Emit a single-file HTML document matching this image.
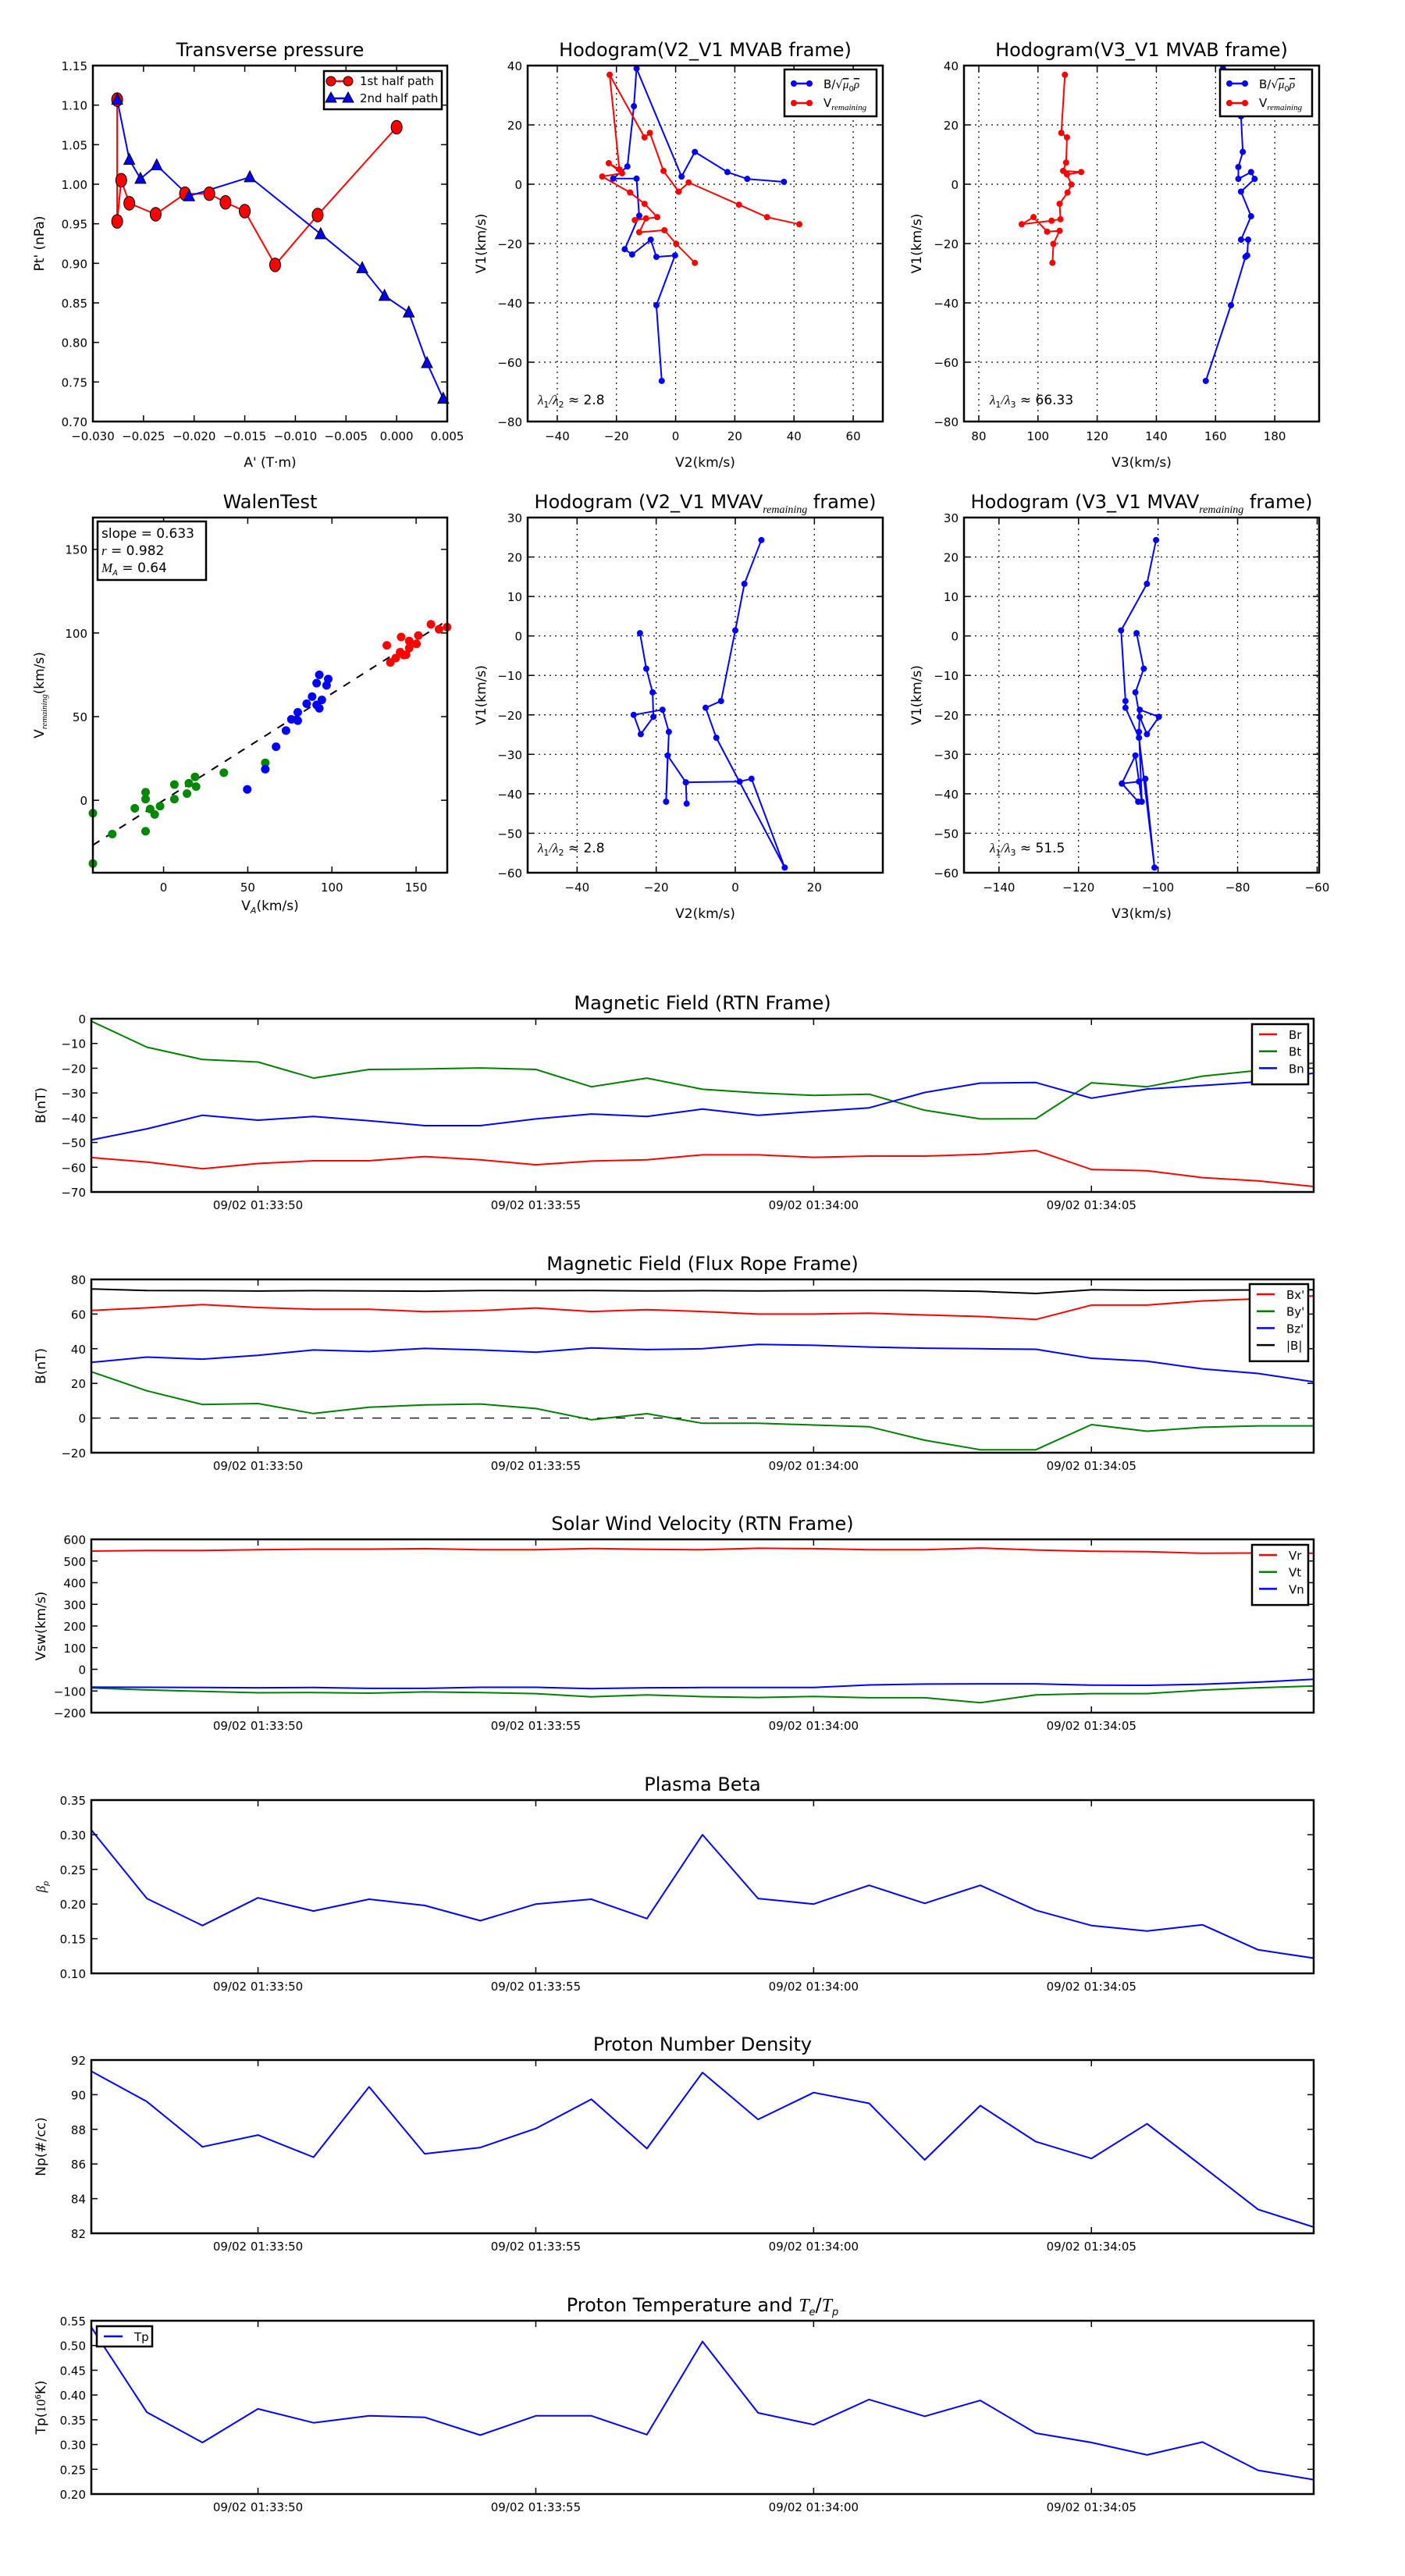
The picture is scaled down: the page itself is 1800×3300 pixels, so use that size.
<!DOCTYPE html>
<html><head><meta charset="utf-8">
<style>
html,body{margin:0;padding:0;background:#fff;}
svg{display:block;font-family:"DejaVu Sans","Liberation Sans",sans-serif;}
</style></head>
<body>
<svg id="fig" width="1800" height="3300" viewBox="0 0 1800 3300" xmlns="http://www.w3.org/2000/svg">
<rect x="0" y="0" width="1800" height="3300" fill="#fff"/>
</svg>
<script>
// ---------- data ----------
const tpA1 = [-0.0276,-0.0276,-0.0272,-0.0264,-0.0238,-0.0209,-0.0185,-0.0169,-0.0150,-0.0120,-0.0078,0.0000];
const tpP1 = [1.107,0.953,1.005,0.976,0.962,0.988,0.988,0.977,0.966,0.898,0.961,1.072];
const tpA2 = [-0.0276,-0.0264,-0.0253,-0.0237,-0.0205,-0.0145,-0.0075,-0.0034,-0.0012,0.0012,0.0030,0.0046];
const tpP2 = [1.107,1.031,1.007,1.024,0.985,1.009,0.937,0.894,0.859,0.838,0.774,0.729];

const h1bV2 = [-4.7,-6.5,-0.2,-6.5,-8.4,-14.7,-17.2,-12.3,-13.2,-21.1,-16.3,-14.1,-13.2,2.0,6.5,17.5,24.2,36.6];
const h1bV1 = [-66.3,-40.8,-24.0,-24.5,-18.7,-23.7,-21.9,-10.6,1.9,1.9,6.0,26.3,39.0,2.6,10.9,4.1,1.8,0.8];
const h1rV2 = [6.5,0.2,-3.8,-12.3,-10.0,-13.8,-6.2,-10.5,-15.4,-24.8,-18.1,-22.6,-19.0,-22.3,-10.5,-8.7,-4.1,1.0,4.4,21.4,30.9,41.8];
const h1rV1 = [-26.5,-20.1,-15.5,-16.2,-11.5,-12.1,-11.1,-6.6,-2.8,2.6,3.7,7.1,5.0,36.9,15.8,17.3,4.5,-2.5,0.6,-6.9,-11.1,-13.5];

const h2bV3 = [156.7,165.2,170.1,170.7,171.0,168.6,172.0,168.6,173.2,172.0,167.7,167.7,169.2,168.6,162.5];
const h2bV1 = [-66.3,-40.8,-24.5,-24.0,-18.7,-18.7,-10.8,-2.5,1.8,4.1,1.8,5.8,10.9,22.9,39.0];
const h2rV3 = [104.9,105.2,107.3,103.1,98.5,94.5,104.6,107.6,107.3,110.0,111.3,109.8,114.6,108.5,109.5,109.8,107.9,109.1];
const h2rV1 = [-26.5,-20.1,-15.7,-16.0,-11.1,-13.5,-12.3,-11.8,-6.6,-2.8,-0.1,3.3,4.1,4.5,7.3,15.8,17.3,36.9];

const walenGx = [-42,-42,-30.5,-17.1,-10.7,-10.7,-8,-5.3,-2.1,-10.7,6.4,6.4,13.9,15,18.7,19.3,35.8,60.4];
const walenGy = [-7.7,-37.8,-20.2,-4.8,4.8,0.7,-5.2,-8.5,-3.5,-18.5,0.7,9.4,4,10.2,14,8.2,16.5,22.4];
const walenBx = [49.7,60.4,66.8,72.7,75.9,79.7,79.7,85,88.2,90.9,92.5,90.9,92.5,96.8,97.8,94];
const walenBy = [6.5,18.6,32,41.7,48.4,52.6,47.6,57.7,62,57,55,70,75,68.7,72.5,60];
const walenRx = [132.6,134.7,137.9,141.1,142.7,145.9,145.9,150.2,151.3,158.8,163.6,168.4,140.5,144];
const walenRy = [92.6,82.4,85,97.6,86.8,91,95.2,93.5,98.5,105.2,102.2,103.5,88.5,87];
const walenSlope = 0.638, walenIntercept = 0.0;

const h3V2 = [6.6,2.3,0,-3.6,-7.5,-4.8,12.5,4.1,1.1,-12.5,-12.3,-12.5,-17.1,-17.5,-16.8,-18.4,-25.7,-23.9,-20.7,-20.9,-22.5,-24.1];
const h3V1 = [24.3,13.2,1.4,-16.5,-18.2,-25.8,-58.7,-36.2,-36.9,-37.1,-42.5,-37.1,-30.3,-42,-24.3,-18.7,-20,-24.9,-20.5,-14.3,-8.3,0.7];
const h4V3 = [-100.5,-102.8,-109.3,-108.2,-108.2,-104.8,-100.9,-103.2,-104.8,-109.1,-105,-109.1,-105.7,-104.1,-104.8,-104.6,-99.8,-102.8,-104.6,-105.7,-103.6,-105.4];
const h4V1 = [24.3,13.2,1.4,-16.5,-18.2,-25.8,-58.7,-36.2,-36.9,-37.4,-42,-37.4,-30.3,-42,-24.3,-18.7,-20.5,-24.9,-20.5,-14.3,-8.3,0.7];

const timeTickIdx = [3,8,13,18];
const timeTickLabels = ["09/02 01:33:50","09/02 01:33:55","09/02 01:34:00","09/02 01:34:05"];
const Br = [-56.1,-57.9,-60.6,-58.5,-57.4,-57.4,-55.7,-57,-59,-57.5,-57,-55,-55,-56,-55.5,-55.5,-54.8,-53.2,-60.9,-61.4,-64.2,-65.5,-67.8];
const Bt = [-1,-11.5,-16.5,-17.5,-24,-20.5,-20.3,-19.9,-20.5,-27.5,-24,-28.5,-30,-31,-30.5,-37,-40.5,-40.4,-25.9,-27.5,-23.2,-20.9,-17.9];
const Bn = [-49,-44.5,-39,-41,-39.5,-41.2,-43.2,-43.2,-40.5,-38.5,-39.5,-36.5,-39,-37.5,-36,-29.8,-26,-25.8,-32.1,-28.4,-27,-25.5,-22];
const Bx1 = [62.1,63.6,65.5,63.8,62.8,62.8,61.4,62,63.5,61.5,62.5,61.5,60,60,60.5,59.5,58.6,56.9,65.2,65.2,67.6,68.8,70.5];
const By1 = [26.7,15.7,7.8,8.4,2.6,6.2,7.6,8.1,5.5,-1,2.5,-3,-3,-4,-5,-12.8,-18.3,-18.3,-3.8,-7.6,-5.3,-4.5,-4.5];
const Bz1 = [32.1,35.2,34,36.2,39.3,38.4,40.2,39.3,38,40.5,39.5,40,42.5,42,41,40.3,40,39.7,34.5,32.8,28.4,25.7,20.9];
const Bmag = [74.5,73.6,73.5,73.3,73.5,73.4,73.2,73.6,73.5,73.6,73.4,73.5,73.4,73.5,73.6,73.5,73.1,71.9,74,73.7,73.8,73.9,74];
const Vr = [546,549,549,552,555,555,557,552,552,558,554,552,559,557,552,552,560,551,545,543,536,537,536];
const Vt = [-86,-95,-102,-108,-107,-110,-104,-107,-112,-127,-118,-126,-130,-125,-131,-131,-154,-118,-112,-112,-96,-85,-77];
const Vn = [-82,-83,-84,-85,-84,-88,-88,-83,-83,-89,-85,-84,-84,-84,-72,-68,-67,-67,-73,-74,-69,-59,-46];
const beta = [0.307,0.208,0.169,0.209,0.190,0.207,0.198,0.176,0.200,0.207,0.179,0.300,0.208,0.200,0.227,0.201,0.227,0.191,0.169,0.161,0.170,0.134,0.122];
const Np = [91.35,89.6,86.99,87.67,86.39,90.45,86.59,86.95,88.05,89.74,86.89,91.28,88.57,90.12,89.5,86.24,89.37,87.29,86.32,88.32,85.86,83.38,82.36];
const Tp = [0.537,0.365,0.304,0.372,0.344,0.358,0.355,0.319,0.358,0.358,0.32,0.508,0.364,0.34,0.391,0.357,0.389,0.323,0.304,0.279,0.305,0.248,0.229];

// ---------- helpers ----------
const NS = 'http://www.w3.org/2000/svg';
const fig = document.getElementById('fig');
function mk(tag, attrs, parent){
  const e = document.createElementNS(NS, tag);
  for (const k in attrs) e.setAttribute(k, attrs[k]);
  (parent || fig).appendChild(e);
  return e;
}
function fmt(v, d){ const s = v.toFixed(d); return s.replace('-', '\u2212'); }
function txt(x, y, s, size, anchor, name, parent, extra){
  const t = mk('text', Object.assign({x:x, y:y, 'font-size':size, 'text-anchor':anchor||'middle', fill:'#000'}, extra||{}), parent);
  t.textContent = s;
  
  
  return t;
}

function axes(c){
  const g = mk('g', {});
  
  
  const sx = v => c.L + (v - c.x0) / (c.x1 - c.x0) * (c.R - c.L);
  const sy = v => c.B - (v - c.y0) / (c.y1 - c.y0) * (c.B - c.T);
  if (c.grid){
    c.xt.forEach(v => { const l = mk('line', {x1:sx(v), x2:sx(v), y1:c.T, y2:c.B, stroke:'#000', 'stroke-width':1.2, 'stroke-dasharray':'2,5'}, g);
        });
    c.yt.forEach(v => { const l = mk('line', {x1:c.L, x2:c.R, y1:sy(v), y2:sy(v), stroke:'#000', 'stroke-width':1.2, 'stroke-dasharray':'2,5'}, g);
        });
  }
  return {g, sx, sy, c};
}
function finishAxes(A){
  const c = A.c, g = A.g, sx = A.sx, sy = A.sy;
  const fr = mk('rect', {x:c.L, y:c.T, width:c.R-c.L, height:c.B-c.T, fill:'none', stroke:'#000', 'stroke-width':2.5}, g);
   
  c.xt.forEach((v,i) => {
    const x = sx(v);
    mk('line', {x1:x, x2:x, y1:c.B, y2:c.B-8, stroke:'#000', 'stroke-width':1.5}, g);
    mk('line', {x1:x, x2:x, y1:c.T, y2:c.T+8, stroke:'#000', 'stroke-width':1.5}, g);
    if (c.xl) txt(x, c.B + (c.xlOff||24), c.xl[i], c.fs||16, 'middle', 'x-tick-label', g);
  });
  c.yt.forEach((v,i) => {
    const y = sy(v);
    mk('line', {x1:c.L, x2:c.L+8, y1:y, y2:y, stroke:'#000', 'stroke-width':1.5}, g);
    mk('line', {x1:c.R, x2:c.R-8, y1:y, y2:y, stroke:'#000', 'stroke-width':1.5}, g);
    txt(c.L-7, y+6, c.yl[i], c.fs||16, 'end', 'y-tick-label', g);
  });
  if (c.title){ const t = txt((c.L+c.R)/2, c.T-12, '', 24, 'middle', 'chart-title', g); c.title(t); }
  if (c.xlabel) txt((c.L+c.R)/2, c.B+58, c.xlabel, 17, 'middle', 'x-axis-title', g);
  if (c.ylabel){ const t = txt(0, 0, '', 17, 'middle', 'y-axis-title', g, {transform:'translate('+c.ylx+','+((c.T+c.B)/2)+') rotate(-90)'}); c.ylabel(t); }
}
function span(t, s, opts){
  const ts = document.createElementNS(NS, 'tspan');
  for (const k in (opts||{})) ts.setAttribute(k, opts[k]);
  ts.textContent = s; t.appendChild(ts); return ts;
}
function polyline(A, xs, ys, color, name, w){
  const pts = xs.map((x,i) => A.sx(x).toFixed(1)+','+A.sy(ys[i]).toFixed(1)).join(' ');
  const p = mk('polyline', {points:pts, fill:'none', stroke:color, 'stroke-width':w||2, 'stroke-linejoin':'round'}, A.g);
  
  
  return p;
}
function dots(A, xs, ys, color, r, name, shape){
  xs.forEach((x,i) => {
    const cx = A.sx(x), cy = A.sy(ys[i]);
    let m;
    if (shape === 'tri'){
      m = mk('polygon', {points:(cx)+','+(cy-r-1)+' '+(cx-r)+','+(cy+r-1)+' '+(cx+r)+','+(cy+r-1), fill:color, stroke:'#000', 'stroke-width':1}, A.g);
    } else {
      m = mk('ellipse', {cx:cx, cy:cy, rx:r, ry:shape==='big'? r*1.25 : r, fill:color, stroke:shape==='big'?'#000':'none', 'stroke-width':1}, A.g);
    }
    
    
  });
}
function legendBox(x, y, w, h, name){
  const r = mk('rect', {x:x, y:y, width:w, height:h, fill:'#fff', stroke:'#000', 'stroke-width':2.5});
  
  
}
function legLine(x1, x2, y, color, name){
  const l = mk('line', {x1:x1, x2:x2, y1:y, y2:y, stroke:color, 'stroke-width':2.5});
  
  
}
function sqrtMuRho(t){
  span(t, 'B/\u221A');
  span(t, '\u03BC', {'font-style':'italic', 'font-family':'Liberation Serif, serif', 'text-decoration':'overline'});
  span(t, '0', {'font-size':'10', dy:'4'});
  span(t, '\u03C1', {'font-style':'italic', 'font-family':'Liberation Serif, serif', dy:'-4', 'text-decoration':'overline'});
}
function vRem(t){
  span(t, 'V');
  span(t, 'remaining', {'font-style':'italic', 'font-family':'Liberation Serif, serif', 'font-size':'11', dy:'4'});
}
function lambdaText(x, y, a, b){
  const t = txt(x, y, '', 17, 'start', 'eigenvalue-ratio-label');
  span(t, '\u03BB', {'font-family':'Liberation Serif, serif', 'font-style':'italic'});
  span(t, '1', {'font-size':'11', dy:'4'});
  span(t, '/\u03BB', {dy:'-4', 'font-family':'Liberation Serif, serif', 'font-style':'italic'});
  span(t, b.sub, {'font-size':'11', dy:'4'});
  span(t, ' \u2248 ' + a, {dy:'-4'});
}

// ---------- top row ----------
const T1 = 84, B1 = 540;
{
  const xt = [-0.030,-0.025,-0.020,-0.015,-0.010,-0.005,0.000,0.005];
  const yt = [0.70,0.75,0.80,0.85,0.90,0.95,1.00,1.05,1.10,1.15];
  const A = axes({name:'transverse-pressure-chart', L:119, R:573, T:T1, B:B1, x0:-0.030, x1:0.005, y0:0.70, y1:1.15,
    xt:xt, yt:yt, xl:xt.map(v=>fmt(v,3)), yl:yt.map(v=>v.toFixed(2)), fs:15,
    title:t=>{t.textContent='Transverse pressure';}, xlabel:"A' (T\u00B7m)", ylx:56, ylabel:t=>{t.textContent="Pt' (nPa)";}});
  polyline(A, tpA1, tpP1, '#f00', 'first-half-path-line');
  polyline(A, tpA2, tpP2, '#00f', 'second-half-path-line');
  dots(A, tpA1, tpP1, '#f00', 7, 'first-half-point', 'big');
  dots(A, tpA2, tpP2, '#00f', 7, 'second-half-point', 'tri');
  finishAxes(A);
  legendBox(415, 91, 151, 49, 'transverse-pressure-legend');
  legLine(424, 446, 104, '#f00', 'legend-first-half-line');
  mk('circle', {cx:424, cy:104, r:6, fill:'#f00', stroke:'#000'}); mk('circle', {cx:446, cy:104, r:6, fill:'#f00', stroke:'#000'});
  legLine(424, 446, 126, '#00f', 'legend-second-half-line');
  mk('polygon', {points:'424,118 417,131 431,131', fill:'#00f', stroke:'#000'}); mk('polygon', {points:'446,118 439,131 453,131', fill:'#00f', stroke:'#000'});
  txt(461, 109, '1st half path', 15, 'start', 'legend-entry');
  txt(461, 131, '2nd half path', 15, 'start', 'legend-entry');
}
function hodoLegend(x){
  legendBox(x, 89, 118, 60, 'hodogram-legend');
  legLine(x+10, x+34, 107, '#00f', 'legend-b-line');
  mk('circle', {cx:x+12, cy:107, r:4, fill:'#00f'}); mk('circle', {cx:x+32, cy:107, r:4, fill:'#00f'});
  legLine(x+10, x+34, 132, '#f00', 'legend-v-line');
  mk('circle', {cx:x+12, cy:132, r:4, fill:'#f00'}); mk('circle', {cx:x+32, cy:132, r:4, fill:'#f00'});
  const a = txt(x+50, 113, '', 15, 'start', 'legend-entry'); sqrtMuRho(a);
  const b = txt(x+50, 137, '', 15, 'start', 'legend-entry'); vRem(b);
}
{
  const xt = [-40,-20,0,20,40,60], yt = [-80,-60,-40,-20,0,20,40];
  const A = axes({name:'hodogram-v2-v1-mvab', L:676, R:1131, T:T1, B:B1, x0:-50, x1:70, y0:-80, y1:40, grid:true,
    xt:xt, yt:yt, xl:xt.map(v=>fmt(v,0)), yl:yt.map(v=>fmt(v,0)), fs:15,
    title:t=>{t.textContent='Hodogram(V2_V1 MVAB frame)';}, xlabel:'V2(km/s)', ylx:622, ylabel:t=>{t.textContent='V1(km/s)';}});
  polyline(A, h1bV2, h1bV1, '#00f', 'b-hodogram-line');
  dots(A, h1bV2, h1bV1, '#00f', 4, 'b-hodogram-point');
  polyline(A, h1rV2, h1rV1, '#f00', 'v-hodogram-line');
  dots(A, h1rV2, h1rV1, '#f00', 4, 'v-hodogram-point');
  finishAxes(A);
  hodoLegend(1005);
  lambdaText(689, 518, '2.8', {sub:'2'});
}
{
  const xt = [80,100,120,140,160,180], yt = [-80,-60,-40,-20,0,20,40];
  const A = axes({name:'hodogram-v3-v1-mvab', L:1235, R:1690, T:T1, B:B1, x0:75, x1:195, y0:-80, y1:40, grid:true,
    xt:xt, yt:yt, xl:xt.map(v=>fmt(v,0)), yl:yt.map(v=>fmt(v,0)), fs:15,
    title:t=>{t.textContent='Hodogram(V3_V1 MVAB frame)';}, xlabel:'V3(km/s)', ylx:1180, ylabel:t=>{t.textContent='V1(km/s)';}});
  polyline(A, h2bV3, h2bV1, '#00f', 'b-hodogram-line');
  dots(A, h2bV3, h2bV1, '#00f', 4, 'b-hodogram-point');
  polyline(A, h2rV3, h2rV1, '#f00', 'v-hodogram-line');
  dots(A, h2rV3, h2rV1, '#f00', 4, 'v-hodogram-point');
  finishAxes(A);
  hodoLegend(1563);
  lambdaText(1268, 518, '66.33', {sub:'3'});
}

// ---------- second row ----------
const T2 = 663, B2 = 1118;
{
  const xt = [0,50,100,150], yt = [0,50,100,150];
  const A = axes({name:'walen-test-chart', L:119, R:573, T:T2, B:B2, x0:-42, x1:168.5, y0:-43.3, y1:169,
    xt:xt, yt:yt, xl:xt.map(v=>fmt(v,0)), yl:yt.map(v=>fmt(v,0)), fs:15,
    title:t=>{t.textContent='WalenTest';}, xlabel:'', ylx:56, ylabel:t=>{span(t,'V'); span(t,'remaining',{'font-size':'11','font-style':'italic','font-family':'Liberation Serif, serif',dy:'4'}); span(t,'(km/s)',{dy:'-4'});}});
  const fx0 = A.c.x0, fx1 = A.c.x1;
  const l = mk('line', {x1:A.sx(fx0), y1:A.sy(walenSlope*fx0 + walenIntercept), x2:A.sx(fx1), y2:A.sy(walenSlope*fx1 + walenIntercept), stroke:'#000', 'stroke-width':2, 'stroke-dasharray':'10,10'}, A.g);
   
  dots(A, walenGx, walenGy, '#080', 5.5, 'walen-point-green');
  dots(A, walenBx, walenBy, '#00f', 5.5, 'walen-point-blue');
  dots(A, walenRx, walenRy, '#f00', 5.5, 'walen-point-red');
  finishAxes(A);
  const xlab = txt(346, 1166, '', 17, 'middle', 'x-axis-title'); span(xlab,'V'); span(xlab,'A',{'font-size':'11','font-style':'italic',dy:'4'}); span(xlab,'(km/s)',{dy:'-4'});
  legendBox(125, 668, 139, 75, 'walen-stats-box');
  txt(130, 689, 'slope = 0.633', 17, 'start', 'slope-label');
  const r = txt(130, 711, '', 17, 'start', 'r-label'); span(r,'r',{'font-style':'italic','font-family':'Liberation Serif, serif'}); span(r,' = 0.982');
  const m = txt(130, 733, '', 17, 'start', 'ma-label'); span(m,'M',{'font-style':'italic','font-family':'Liberation Serif, serif'}); span(m,'A',{'font-size':'10','font-style':'italic',dy:'4'}); span(m,' = 0.64',{dy:'-4'});
}
function mvavTitle(t, s1){
  span(t, s1); span(t, 'remaining', {'font-size':'14','font-style':'italic','font-family':'Liberation Serif, serif', dy:'6'}); span(t, ' frame)', {dy:'-6'});
}
{
  const xt = [-40,-20,0,20], yt = [-60,-50,-40,-30,-20,-10,0,10,20,30];
  const A = axes({name:'hodogram-v2-v1-mvav', L:676, R:1131, T:T2, B:B2, x0:-52.5, x1:37.3, y0:-60, y1:30, grid:true,
    xt:xt, yt:yt, xl:xt.map(v=>fmt(v,0)), yl:yt.map(v=>fmt(v,0)), fs:15,
    title:t=>mvavTitle(t,'Hodogram (V2_V1 MVAV'), xlabel:'V2(km/s)', ylx:622, ylabel:t=>{t.textContent='V1(km/s)';}});
  polyline(A, h3V2, h3V1, '#00f', 'mvav-hodogram-line');
  dots(A, h3V2, h3V1, '#00f', 4, 'mvav-hodogram-point');
  finishAxes(A);
  lambdaText(689, 1092, '2.8', {sub:'2'});
}
{
  const xt = [-140,-120,-100,-80,-60], yt = [-60,-50,-40,-30,-20,-10,0,10,20,30];
  const A = axes({name:'hodogram-v3-v1-mvav', L:1235, R:1690, T:T2, B:B2, x0:-148.8, x1:-59.5, y0:-60, y1:30, grid:true,
    xt:xt, yt:yt, xl:xt.map(v=>fmt(v,0)), yl:yt.map(v=>fmt(v,0)), fs:15,
    title:t=>mvavTitle(t,'Hodogram (V3_V1 MVAV'), xlabel:'V3(km/s)', ylx:1180, ylabel:t=>{t.textContent='V1(km/s)';}});
  polyline(A, h4V3, h4V1, '#00f', 'mvav-hodogram-line');
  dots(A, h4V3, h4V1, '#00f', 4, 'mvav-hodogram-point');
  finishAxes(A);
  lambdaText(1268, 1092, '51.5', {sub:'3'});
}

// ---------- time series ----------
const tIdx = Br.map((_,i)=>i);
function tsPanel(o){
  const T = o.T, B = T + 222;
  const A = axes({name:o.name, L:117, R:1683, T:T, B:B, x0:0, x1:22, y0:o.y0, y1:o.y1,
    xt:timeTickIdx, yt:o.yt, xl:timeTickLabels, yl:o.yt.map(v=>fmt(v,o.dec)), fs:15, xlOff:22,
    title:o.title, ylx:58, ylabel:o.ylabel});
  if (o.zero){ const z = mk('line', {x1:117, x2:1683, y1:A.sy(0), y2:A.sy(0), stroke:'#000', 'stroke-width':1.3, 'stroke-dasharray':'12,12'}, A.g);
      }
  o.series.forEach(s => polyline(A, tIdx, s.v, s.c, s.n, 2));
  finishAxes(A);
  return A;
}
function tsLegend(x, y, w, items, name){
  legendBox(x, y, w, 12 + items.length*21.7, name);
  items.forEach((it,i) => {
    const yy = y + 13 + i*21.7;
    legLine(x+9, x+32, yy, it.c, 'legend-line');
    txt(x+47, yy+6, it.t, 15, 'start', 'legend-entry');
  });
}
tsPanel({name:'magnetic-field-rtn-chart', T:1305, y0:-70, y1:0, yt:[-70,-60,-50,-40,-30,-20,-10,0], dec:0,
  title:t=>{t.textContent='Magnetic Field (RTN Frame)';}, ylabel:t=>{t.textContent='B(nT)';},
  series:[{v:Br,c:'#f00',n:'br-line'},{v:Bt,c:'#008000',n:'bt-line'},{v:Bn,c:'#00f',n:'bn-line'}]});
tsLegend(1604, 1312, 72, [{c:'#f00',t:'Br'},{c:'#008000',t:'Bt'},{c:'#00f',t:'Bn'}], 'rtn-legend');

tsPanel({name:'magnetic-field-flux-rope-chart', T:1639, y0:-20, y1:80, yt:[-20,0,20,40,60,80], dec:0, zero:true,
  title:t=>{t.textContent='Magnetic Field (Flux Rope Frame)';}, ylabel:t=>{t.textContent='B(nT)';},
  series:[{v:Bmag,c:'#000',n:'bmag-line'},{v:Bx1,c:'#f00',n:'bx-line'},{v:By1,c:'#008000',n:'by-line'},{v:Bz1,c:'#00f',n:'bz-line'}]});
tsLegend(1601, 1645, 75, [{c:'#f00',t:"Bx'"},{c:'#008000',t:"By'"},{c:'#00f',t:"Bz'"},{c:'#000',t:'|B|'}], 'flux-rope-legend');

tsPanel({name:'solar-wind-velocity-chart', T:1972, y0:-200, y1:600, yt:[-200,-100,0,100,200,300,400,500,600], dec:0,
  title:t=>{t.textContent='Solar Wind Velocity (RTN Frame)';}, ylabel:t=>{t.textContent='Vsw(km/s)';},
  series:[{v:Vr,c:'#f00',n:'vr-line'},{v:Vt,c:'#008000',n:'vt-line'},{v:Vn,c:'#00f',n:'vn-line'}]});
tsLegend(1604, 1979, 72, [{c:'#f00',t:'Vr'},{c:'#008000',t:'Vt'},{c:'#00f',t:'Vn'}], 'velocity-legend');

tsPanel({name:'plasma-beta-chart', T:2306, y0:0.10, y1:0.35, yt:[0.10,0.15,0.20,0.25,0.30,0.35], dec:2,
  title:t=>{t.textContent='Plasma Beta';}, ylabel:t=>{span(t,'\u03B2',{'font-style':'italic','font-family':'Liberation Serif, serif'}); span(t,'p',{'font-size':'10','font-style':'italic',dy:'4'});},
  series:[{v:beta,c:'#00f',n:'beta-line'}]});

tsPanel({name:'proton-density-chart', T:2639, y0:82, y1:92, yt:[82,84,86,88,90,92], dec:0,
  title:t=>{t.textContent='Proton Number Density';}, ylabel:t=>{t.textContent='Np(#/cc)';},
  series:[{v:Np,c:'#00f',n:'np-line'}]});

tsPanel({name:'proton-temperature-chart', T:2973, y0:0.20, y1:0.55, yt:[0.20,0.25,0.30,0.35,0.40,0.45,0.50,0.55], dec:2,
  title:t=>{span(t,'Proton Temperature and '); span(t,'T',{'font-style':'italic','font-family':'Liberation Serif, serif'}); span(t,'e',{'font-size':'13','font-style':'italic',dy:'5'}); span(t,'/',{dy:'-5'}); span(t,'T',{'font-style':'italic','font-family':'Liberation Serif, serif'}); span(t,'p',{'font-size':'13','font-style':'italic',dy:'5'});},
  ylabel:t=>{span(t,'Tp('); span(t,'10',{'font-family':'Liberation Serif, serif'}); span(t,'6',{'font-size':'10',dy:'-6'}); span(t,'K)',{dy:'6'});},
  series:[{v:Tp,c:'#00f',n:'tp-line'}]});
legendBox(124, 2980, 71, 26, 'tp-legend');
legLine(133, 157, 2993, '#00f', 'legend-line');
txt(172, 2999, 'Tp', 15, 'start', 'legend-entry');
</script>
</body></html>
